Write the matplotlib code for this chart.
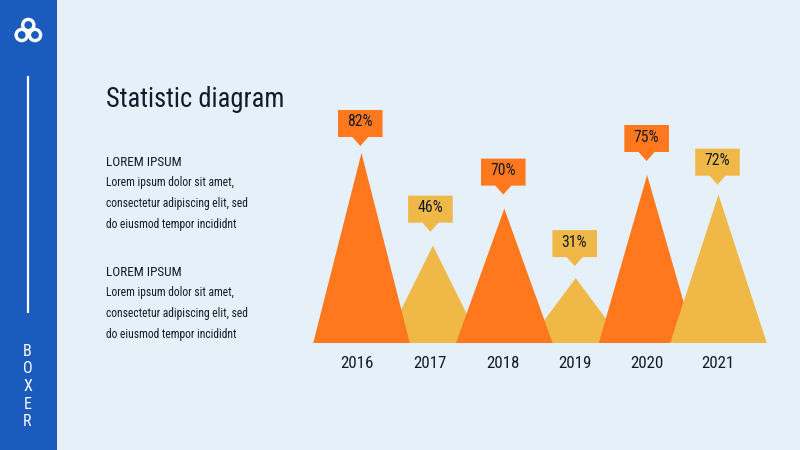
import matplotlib
matplotlib.use("Agg")
import matplotlib.pyplot as plt
from matplotlib.patches import Polygon, Rectangle, Circle
from matplotlib import font_manager as fm

years = ["2016", "2017", "2018", "2019", "2020", "2021"]
peak_heights = [82, 42, 58, 28, 72.5, 64]
labels = ["82%", "46%", "70%", "31%", "75%", "72%"]
series_colors = ["#FF781E", "#F0B846", "#FF781E", "#F0B846", "#FF781E", "#F0B846"]
draw_rank = [2, 1, 2, 1, 2, 3]
tip_gaps = [7, 14, 14, 12, 14, 10]
box_shift_px = [-1.2, -2.5, -1, -1, -0.5, -1]
tick_shift_px = [-5, -3.4, -1.8, -0.7, -0.1, -0.5]

title = "Statistic diagram"
heading = "LOREM IPSUM"
body_lines = ["Lorem ipsum dolor sit amet,", "consectetur adipiscing elit, sed", "do eiusmod tempor incididnt"]
brand = "BOXER"

BG = "#E6F0F9"
BLUE = "#1C5BBE"
INK = "#131B2A"

names = {f.name for f in fm.fontManager.ttflist}
FONT = next(n for n in ["Roboto Condensed", "Liberation Sans Narrow", "Roboto"] if n in names)

W, H = 800, 450
fig = plt.figure(figsize=(8, 4.5), dpi=100, facecolor=BG)

page = fig.add_axes([0, 0, 1, 1])
page.set_xlim(0, W)
page.set_ylim(H, 0)
page.axis("off")
page.add_patch(Rectangle((0, 0), 57, H, color=BLUE, lw=0))
page.plot([28, 28], [76, 313], color="white", lw=1.6, solid_capstyle="butt")
for cx, cy in [(28.3, 25), (21.7, 35), (35, 35)]:
    page.add_patch(Circle((cx, cy), 5.6, fc="none", ec="white", lw=2.4))
for i, ch in enumerate(brand):
    page.text(27.5, 351 + i * 17.7, ch, color="white", fontsize=11.5, family=FONT, ha="center", va="center")

page.text(106, 99.5, title, color=INK, fontsize=19.1, family=FONT, ha="left", va="center")
for top in (163, 273):
    page.text(106, top, heading, color=INK, fontsize=9.5, family=FONT, ha="left", va="center")
    for j, line in enumerate(body_lines):
        page.text(106, top + 19.5 + j * 21, line, color=INK, fontsize=8.4, family=FONT, ha="left", va="center")

# chart axes: category 0 sits at x=361.5 px, spacing 71.4 px; baseline at y=343 px
x0_px = 361.5
px_per_cat = 71.4
px_per_val = 190 / 82
x_left, x_right = 300, 790
y_top, y_base = 60, 343
ax = fig.add_axes([x_left / W, 1 - y_base / H, (x_right - x_left) / W, (y_base - y_top) / H])
ax.patch.set_alpha(0)
ax.set_xlim((x_left - x0_px) / px_per_cat, (x_right - x0_px) / px_per_cat)
ax.set_ylim(0, (y_base - y_top) / px_per_val)
half = 48.3 / px_per_cat
for i, (h, c, r) in enumerate(zip(peak_heights, series_colors, draw_rank)):
    ax.add_patch(Polygon([(i - half, 0), (i, h), (i + half, 0)], closed=True, fc=c, ec="none", zorder=r))
ax.set_xticks([i + s / px_per_cat for i, s in enumerate(tick_shift_px)], years)
ax.tick_params(length=0, pad=9, labelsize=12.2, labelcolor=INK)
for t in ax.get_xticklabels():
    t.set_family(FONT)
ax.set_yticks([])
for s in ax.spines.values():
    s.set_visible(False)

# callouts, placed in pixels relative to each peak
for i, (h, c, gap, lab) in enumerate(zip(peak_heights, series_colors, tip_gaps, labels)):
    px, py = ax.transData.transform((i, h))
    cx = px / fig.dpi * 100 + box_shift_px[i]
    tip = H - py / fig.dpi * 100 - gap
    page.add_patch(Polygon([(cx - 22.3, tip - 36), (cx + 22.3, tip - 36), (cx + 22.3, tip - 9),
                            (cx + 8, tip - 9), (cx, tip), (cx - 8, tip - 9), (cx - 22.3, tip - 9)],
                           closed=True, fc=c, ec="none", zorder=5))
    page.text(cx - 0.5, tip - 24, lab, color=INK, fontsize=11.3, family=FONT, ha="center", va="center", zorder=6)
page.set_zorder(2)

fig.savefig("out.png", dpi=100, facecolor=BG)
